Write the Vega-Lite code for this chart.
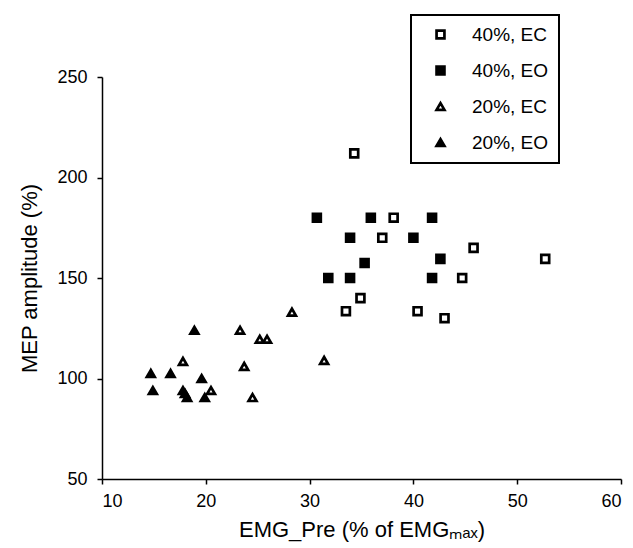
{
  "$schema": "https://vega.github.io/schema/vega-lite/v6.json",
  "width": 519,
  "height": 402,
  "autosize": {"type": "none"},
  "padding": {"left": 102, "top": 77, "right": 12, "bottom": 69},
  "background": "white",
  "config": {
    "view": {"stroke": null},
    "font": "Liberation Sans",
    "axis": {
      "grid": false,
      "domainColor": "black",
      "domainWidth": 1.5,
      "tickColor": "black",
      "tickWidth": 1.5,
      "tickSize": 5,
      "labelFont": "Liberation Sans",
      "labelFontSize": 18,
      "labelColor": "black",
      "titleFont": "Liberation Sans",
      "titleFontSize": 22,
      "titleFontWeight": "normal",
      "titleColor": "black"
    },
    "legend": {
      "orient": "none",
      "legendX": 309,
      "legendY": -62,
      "strokeColor": "black",
      "strokeWidth": 2,
      "fillColor": "white",
      "padding": 10,
      "rowPadding": 16,
      "labelFont": "Liberation Sans",
      "labelFontSize": 19,
      "labelColor": "black",
      "symbolStrokeWidth": 2.7,
      "symbolOffset": 10,
      "labelOffset": 22
    }
  },
  "data": {
    "values": [
      {"group": "40%, EC", "emg": 34.3, "mep": 212},
      {"group": "40%, EC", "emg": 38.1, "mep": 180},
      {"group": "40%, EC", "emg": 37.0, "mep": 170},
      {"group": "40%, EC", "emg": 45.8, "mep": 165},
      {"group": "40%, EC", "emg": 52.7, "mep": 159.5},
      {"group": "40%, EC", "emg": 44.7, "mep": 150},
      {"group": "40%, EC", "emg": 34.9, "mep": 140},
      {"group": "40%, EC", "emg": 33.5, "mep": 133.5},
      {"group": "40%, EC", "emg": 40.4, "mep": 133.5},
      {"group": "40%, EC", "emg": 43.0, "mep": 130},
      {"group": "40%, EO", "emg": 30.7, "mep": 180},
      {"group": "40%, EO", "emg": 35.9, "mep": 180},
      {"group": "40%, EO", "emg": 41.8, "mep": 180},
      {"group": "40%, EO", "emg": 33.9, "mep": 170},
      {"group": "40%, EO", "emg": 40.0, "mep": 170},
      {"group": "40%, EO", "emg": 42.6, "mep": 159.5},
      {"group": "40%, EO", "emg": 35.3, "mep": 157.5},
      {"group": "40%, EO", "emg": 31.8, "mep": 150},
      {"group": "40%, EO", "emg": 33.9, "mep": 150},
      {"group": "40%, EO", "emg": 41.8, "mep": 150},
      {"group": "20%, EC", "emg": 28.3, "mep": 133},
      {"group": "20%, EC", "emg": 23.3, "mep": 124},
      {"group": "20%, EC", "emg": 25.2, "mep": 119.5},
      {"group": "20%, EC", "emg": 25.9, "mep": 119.5},
      {"group": "20%, EC", "emg": 31.4, "mep": 109},
      {"group": "20%, EC", "emg": 17.8, "mep": 108.5},
      {"group": "20%, EC", "emg": 23.7, "mep": 106},
      {"group": "20%, EC", "emg": 20.5, "mep": 94},
      {"group": "20%, EC", "emg": 24.5, "mep": 90.5},
      {"group": "20%, EO", "emg": 18.9, "mep": 124},
      {"group": "20%, EO", "emg": 14.7, "mep": 102.5},
      {"group": "20%, EO", "emg": 16.6, "mep": 102.5},
      {"group": "20%, EO", "emg": 19.6, "mep": 100},
      {"group": "20%, EO", "emg": 14.9, "mep": 94},
      {"group": "20%, EO", "emg": 17.8, "mep": 94},
      {"group": "20%, EO", "emg": 18.0, "mep": 92.5},
      {"group": "20%, EO", "emg": 18.2, "mep": 90.5},
      {"group": "20%, EO", "emg": 19.9, "mep": 90.5}
    ]
  },
  "mark": {"type": "point", "filled": true, "strokeWidth": 2.7, "opacity": 1},
  "encoding": {
    "x": {
      "field": "emg",
      "type": "quantitative",
      "scale": {"domain": [10, 60], "nice": false, "zero": false},
      "axis": {"values": [10, 20, 30, 40, 50, 60], "title": "EMG_Pre (% of EMGₘₐₓ)", "labelPadding": 8, "titlePadding": 9}
    },
    "y": {
      "field": "mep",
      "type": "quantitative",
      "scale": {"domain": [50, 250], "nice": false, "zero": false},
      "axis": {"values": [50, 100, 150, 200, 250], "title": "MEP amplitude (%)", "labelPadding": 10, "titlePadding": 15}
    },
    "shape": {
      "field": "group",
      "type": "nominal",
      "scale": {"domain": ["40%, EC", "40%, EO", "20%, EC", "20%, EO"], "range": ["square", "square", "triangle-up", "triangle-up"]},
      "legend": {"title": null, "symbolStrokeWidth": 2.7}
    },
    "fill": {
      "field": "group",
      "type": "nominal",
      "scale": {"domain": ["40%, EC", "40%, EO", "20%, EC", "20%, EO"], "range": ["white", "black", "white", "black"]},
      "legend": {"title": null, "symbolStrokeWidth": 2.7}
    },
    "stroke": {
      "field": "group",
      "type": "nominal",
      "scale": {"domain": ["40%, EC", "40%, EO", "20%, EC", "20%, EO"], "range": ["black", "black", "black", "black"]},
      "legend": {"title": null, "symbolStrokeWidth": 2.7}
    },
    "size": {
      "field": "group",
      "type": "nominal",
      "scale": {"domain": ["40%, EC", "40%, EO", "20%, EC", "20%, EO"], "range": [62, 62, 88, 88]},
      "legend": {"title": null, "symbolStrokeWidth": 2.7}
    }
  }
}
